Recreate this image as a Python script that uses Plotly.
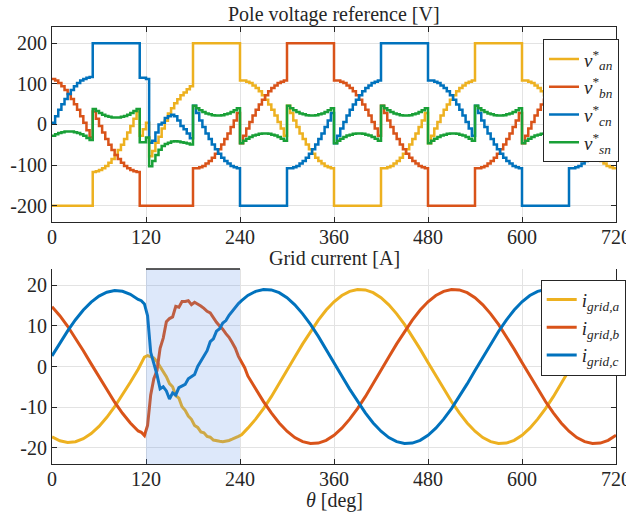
import plotly.graph_objects as go

FONT = "Liberation Serif"
TXT = "#262626"

# ---------------- Top: pole voltage reference (sampled every 4 deg) ----------------
theta_v = list(range(0, 721, 4))

v_an = [-200, -200, -200, -200, -200, -200, -200, -200, -200, -200, -200, -200, -200,
        -117, -115, -112, -108, -102, -94, -85, -75, -63, -50, -36, -20, -4, 14, 32,
        -28, -12, 4, -78, -65, -45, -30, -10, 9, 27, 40, 52, 62, 72, 79, 87, 94,
        200, 200, 200, 200, 200, 200, 200, 200, 200, 200, 200, 200, 200, 200, 200,
        108, 108, 105, 102, 96, 90, 82, 72, 61, 49, 36, 22, 6, -10, -28,
        46, 28, 10, -6, -22, -36, -49, -61, -72, -82, -90, -96, -102, -105, -108,
        -200, -200, -200, -200, -200, -200, -200, -200, -200, -200, -200, -200, -200, -200, -200,
        -108, -108, -105, -102, -96, -90, -82, -72, -61, -49, -36, -22, -6, 10, 28,
        -46, -28, -10, 6, 22, 36, 49, 61, 72, 82, 90, 96, 102, 105, 108,
        200, 200, 200, 200, 200, 200, 200, 200, 200, 200, 200, 200, 200, 200, 200,
        108, 108, 105, 102, 96, 90, 82, 72, 61, 49, 36, 22, 6, -10, -28,
        46, 28, 10, -6, -22, -36, -49, -61, -72, -82, -90, -96, -102, -105, -108,
        -108]

v_bn = [112, 108, 102, 94, 85, 75, 63, 50, 36, 20, 4, -14, -32,
        32, 14, -4, -20, -36, -50, -63, -75, -85, -94, -102, -108, -112, -115, -117,
        -200, -200, -200, -200, -200, -200, -200, -200, -200, -200, -200, -200, -200, -200, -200, -200, -200,
        -108, -108, -105, -102, -96, -90, -82, -72, -61, -49, -36, -22, -6, 10, 28,
        -46, -28, -10, 6, 22, 36, 49, 61, 72, 82, 90, 96, 102, 105, 108,
        200, 200, 200, 200, 200, 200, 200, 200, 200, 200, 200, 200, 200, 200, 200,
        108, 108, 105, 102, 96, 90, 82, 72, 61, 49, 36, 22, 6, -10, -28,
        46, 28, 10, -6, -22, -36, -49, -61, -72, -82, -90, -96, -102, -105, -108,
        -200, -200, -200, -200, -200, -200, -200, -200, -200, -200, -200, -200, -200, -200, -200,
        -108, -108, -105, -102, -96, -90, -82, -72, -61, -49, -36, -22, -6, 10, 28,
        -46, -28, -10, 6, 22, 36, 49, 61, 72, 82, 90, 96, 102, 105, 108,
        200, 200, 200, 200, 200, 200, 200, 200, 200, 200, 200, 200, 200, 200, 200,
        200]

v_cn = [4, 20, 36, 50, 63, 75, 85, 94, 102, 108, 112, 115, 117,
        200, 200, 200, 200, 200, 200, 200, 200, 200, 200, 200, 200, 200, 200, 200,
        115, 115, 112, -45, -40, -20, 0, 4, 16, 20, 24, 20, 10, -4, -12, -22, -34,
        46, 28, 10, -6, -22, -36, -49, -61, -72, -82, -90, -96, -102, -105, -108,
        -200, -200, -200, -200, -200, -200, -200, -200, -200, -200, -200, -200, -200, -200, -200,
        -108, -108, -105, -102, -96, -90, -82, -72, -61, -49, -36, -22, -6, 10, 28,
        -46, -28, -10, 6, 22, 36, 49, 61, 72, 82, 90, 96, 102, 105, 108,
        200, 200, 200, 200, 200, 200, 200, 200, 200, 200, 200, 200, 200, 200, 200,
        108, 108, 105, 102, 96, 90, 82, 72, 61, 49, 36, 22, 6, -10, -28,
        46, 28, 10, -6, -22, -36, -49, -61, -72, -82, -90, -96, -102, -105, -108,
        -200, -200, -200, -200, -200, -200, -200, -200, -200, -200, -200, -200, -200, -200, -200,
        -108, -108, -105, -102, -96, -90, -82, -72, -61, -49, -36, -22, -6, 10, 28,
        28]

v_sn = [-28, -24, -21, -19, -17, -17, -17, -19, -21, -24, -28, -33, -38,
        38, 33, 28, 24, 21, 19, 17, 17, 17, 19, 21, 24, 28, 33, 38,
        -44, -44, -32, -103, -90, -75, -62, -53, -48, -45, -42, -41, -42, -44, -45, -47, -49,
        46, 40, 35, 31, 27, 25, 23, 22, 22, 23, 25, 27, 31, 35, 40,
        -46, -40, -35, -31, -27, -25, -23, -22, -22, -23, -25, -27, -31, -35, -40,
        46, 40, 35, 31, 27, 25, 23, 22, 22, 23, 25, 27, 31, 35, 40,
        -46, -40, -35, -31, -27, -25, -23, -22, -22, -23, -25, -27, -31, -35, -40,
        46, 40, 35, 31, 27, 25, 23, 22, 22, 23, 25, 27, 31, 35, 40,
        -46, -40, -35, -31, -27, -25, -23, -22, -22, -23, -25, -27, -31, -35, -40,
        46, 40, 35, 31, 27, 25, 23, 22, 22, 23, 25, 27, 31, 35, 40,
        -46, -40, -35, -31, -27, -25, -23, -22, -22, -23, -25, -27, -31, -35, -40,
        46, 40, 35, 31, 27, 25, 23, 22, 22, 23, 25, 27, 31, 35, 40,
        40]

# ---------------- Bottom: grid currents ----------------
theta_i = list(range(0, 111, 10)) + list(range(114, 247, 4)) + list(range(250, 721, 10))

i_a = [-17.34, -18.29, -18.69, -18.52, -17.79, -16.51, -14.74, -12.51, -9.91, -7.01, -3.89, -0.65,
       0.8, 2.3, 2.7, 2.3, 2.1, 1.2, 0.0, -1.0, -2.5, -4.2, -5.0, -7.2, -7.8, -9.9, -10.8, -12.2,
       -13.0, -14.5, -15.0, -16.1, -16.3, -17.2, -17.4, -18.1, -18.3, -18.4, -18.5, -18.4, -18.2,
       -17.9, -17.6, -17.2, -16.8, -16.1,
       -15.17, -12.96, -10.35, -7.42, -4.28, -0.99, 2.32, 5.56, 8.63, 11.43, 13.90, 15.94, 17.49,
       18.51, 18.97, 18.86, 18.17, 16.93, 15.17, 12.96, 10.35, 7.42, 4.28, 0.99, -2.32, -5.56,
       -8.63, -11.43, -13.90, -15.94, -17.49, -18.51, -18.97, -18.86, -18.17, -16.93, -15.17,
       -12.96, -10.35, -7.42, -4.28, -0.99, 2.32, 5.56, 8.63, 11.43, 13.90, 15.94]

i_b = [14.74, 12.51, 9.91, 7.01, 3.89, 0.65, -2.60, -5.78, -8.78, -11.51, -13.90, -15.86,
       -16.2, -17.0, -14.5, -7.0, -3.0, -1.0, 4.5, 7.0, 11.0, 11.8, 12.2, 14.8, 14.6, 16.0, 16.0,
       16.2, 15.2, 15.8, 15.4, 14.9, 14.3, 13.6, 13.2, 12.0, 10.9, 10.0, 9.2, 8.1, 7.2, 5.9,
       4.5, 2.5, 1.2, -0.3,
       -2.32, -5.56, -8.63, -11.43, -13.90, -15.94, -17.49, -18.51, -18.97, -18.86, -18.17,
       -16.93, -15.17, -12.96, -10.35, -7.42, -4.28, -0.99, 2.32, 5.56, 8.63, 11.43, 13.90,
       15.94, 17.49, 18.51, 18.97, 18.86, 18.17, 16.93, 15.17, 12.96, 10.35, 7.42, 4.28, 0.99,
       -2.32, -5.56, -8.63, -11.43, -13.90, -15.94, -17.49, -18.51, -18.97, -18.86, -18.17, -16.93]

i_c = [2.60, 5.78, 8.78, 11.51, 13.90, 15.86, 17.34, 18.29, 18.69, 18.52, 17.79, 16.51,
       16.2, 15.4, 12.5, 3.5, 0.8, -2.0, -5.5, -5.0, -6.0, -8.0, -6.5, -7.0, -5.2, -4.8, -4.4,
       -3.0, -2.6, -2.0, 0.0, 1.2, 2.7, 3.9, 6.1, 6.8, 8.7, 9.3, 10.7, 11.3, 12.6, 13.6,
       14.6, 15.5, 16.2, 16.8,
       17.49, 18.51, 18.97, 18.86, 18.17, 16.93, 15.17, 12.96, 10.35, 7.42, 4.28, 0.99, -2.32,
       -5.56, -8.63, -11.43, -13.90, -15.94, -17.49, -18.51, -18.97, -18.86, -18.17, -16.93,
       -15.17, -12.96, -10.35, -7.42, -4.28, -0.99, 2.32, 5.56, 8.63, 11.43, 13.90, 15.94, 17.49,
       18.51, 18.97, 18.86, 18.17, 16.93, 15.17, 12.96, 10.35, 7.42, 4.28, 0.99]

x_ticks = [0, 120, 240, 360, 480, 600, 720]
x_ticktext = ["0", "120", "240", "360", "480", "600", "720"]
yv_ticks = [-200, -100, 0, 100, 200]
yv_ticktext = ["-200", "-100", "0", "100", "200"]
yi_ticks = [-20, -10, 0, 10, 20]
yi_ticktext = ["-20", "-10", "0", "10", "20"]
highlight = [120, 240]

C_YEL, C_RED, C_BLU, C_GRN = "#EDB120", "#D95319", "#0072BD", "#19A037"

fig = go.Figure()
top_series = [
    (v_an, C_YEL, "<i>v</i><sup>*</sup><sub><i>an</i></sub>"),
    (v_bn, C_RED, "<i>v</i><sup>*</sup><sub><i>bn</i></sub>"),
    (v_cn, C_BLU, "<i>v</i><sup>*</sup><sub><i>cn</i></sub>"),
    (v_sn, C_GRN, "<i>v</i><sup>*</sup><sub><i>sn</i></sub>"),
]
for vals, col, name in top_series:
    fig.add_trace(go.Scatter(x=theta_v, y=vals, mode="lines", line=dict(color=col, width=2.5, shape="hv"),
                             name=name, xaxis="x", yaxis="y", legend="legend"))

bot_series = [
    (i_a, C_YEL, "<i>i</i><sub><i>grid,a</i></sub>"),
    (i_b, C_RED, "<i>i</i><sub><i>grid,b</i></sub>"),
    (i_c, C_BLU, "<i>i</i><sub><i>grid,c</i></sub>"),
]
for vals, col, name in bot_series:
    fig.add_trace(go.Scatter(x=theta_i, y=vals, mode="lines", line=dict(color=col, width=3),
                             name=name, xaxis="x2", yaxis="y2", legend="legend2"))

tickfont = dict(family=FONT, size=20, color=TXT)
common = dict(showline=True, linecolor=TXT, linewidth=1, ticks="inside", ticklen=5,
              tickcolor=TXT, tickwidth=1, showgrid=True, gridcolor="#e3e3e3", gridwidth=1,
              zeroline=False, tickfont=tickfont, automargin=False, ticklabeloverflow="allow")

top_dom = [0.5538, 1.0]
bot_dom = [0.0, 0.4462]

legfont = dict(family=FONT, size=19, color=TXT)

fig.update_layout(
    width=626, height=515,
    margin=dict(l=52, r=10, t=27, b=51, autoexpand=False),
    paper_bgcolor="white", plot_bgcolor="white",
    font=dict(family=FONT, size=20, color=TXT),
    xaxis=dict(common, domain=[0, 1], range=[0, 720], tickvals=x_ticks, ticktext=x_ticktext,
               anchor="y", mirror="ticks", ticklabelstandoff=-3),
    yaxis=dict(common, domain=top_dom, range=[-240, 240], tickvals=yv_ticks, ticktext=yv_ticktext,
               anchor="x", mirror="ticks"),
    xaxis2=dict(common, domain=[0, 1], range=[0, 720], tickvals=x_ticks, ticktext=x_ticktext,
                anchor="y2", mirror=False, ticklabelstandoff=-3),
    yaxis2=dict(common, domain=bot_dom, range=[-24, 24], tickvals=yi_ticks, ticktext=yi_ticktext,
                anchor="x2", mirror="ticks"),
    xaxis3=dict(overlaying="x2", anchor="y2", side="top", range=[0, 720], tickvals=x_ticks,
                showticklabels=False, showline=False, showgrid=False, zeroline=False,
                ticks="inside", ticklen=5, tickcolor=TXT, tickwidth=1, automargin=False),
    legend=dict(x=0.8706, y=0.972, xanchor="left", yanchor="top", bgcolor="white",
                bordercolor=TXT, borderwidth=1, font=legfont,
                itemwidth=30, tracegroupgap=0),
    legend2=dict(x=0.8665, y=0.4217, xanchor="left", yanchor="top", bgcolor="white",
                 bordercolor=TXT, borderwidth=1, font=legfont,
                 itemwidth=30, tracegroupgap=0),
    showlegend=True,
)

fig.add_shape(type="rect", xref="x2", yref="y2 domain", x0=highlight[0], x1=highlight[1], y0=0, y1=1,
              fillcolor="rgba(85,140,230,0.2)", line=dict(width=0), layer="above")
fig.add_shape(type="line", xref="x2", yref="y2 domain", x0=highlight[0], x1=highlight[1], y0=1, y1=1,
              line=dict(color=TXT, width=1.3), layer="above")

fig.add_annotation(text="Pole voltage reference [V]", x=0.5, y=1.0297, xref="paper", yref="paper",
                   showarrow=False, xanchor="center", yanchor="middle", font=dict(family=FONT, size=20, color=TXT))
fig.add_annotation(text="Grid current [A]", x=0.5, y=0.471, xref="paper", yref="paper",
                   showarrow=False, xanchor="center", yanchor="middle", font=dict(family=FONT, size=20, color=TXT))
fig.add_annotation(text="<i>θ</i> [deg]", x=0.5, y=-0.084, xref="paper", yref="paper",
                   showarrow=False, xanchor="center", yanchor="middle", font=dict(family=FONT, size=20, color=TXT))

fig.write_html("out.html", config={"displayModeBar": False},
               post_script="document.body.style.margin='0';document.body.style.overflow='hidden';")
